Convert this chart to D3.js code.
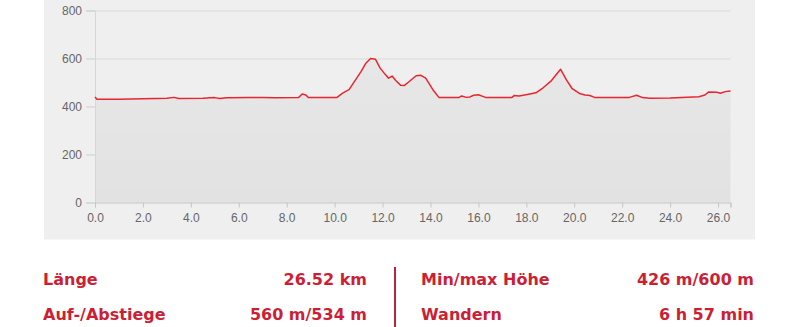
<!DOCTYPE html>
<html>
<head>
<meta charset="utf-8">
<script src="https://cdn.jsdelivr.net/npm/d3@7"></script>
<style>
  body { margin: 0; background: #fff; }
  svg { display: block; }
</style>
</head>
<body>
<div id="profile"></div>
<script>
// Set Dimensions
const width = 800;
const height = 327;

// Elevation profile (km, m)
const distKm = [0.00, 0.08, 1.00, 2.00, 3.00, 3.30, 3.50, 4.50, 5.00, 5.20, 5.50, 6.50, 7.00, 7.50, 8.50,
  8.65, 8.80, 8.90, 9.50, 10.10, 10.35, 10.60, 10.90, 11.10, 11.30, 11.50, 11.70, 11.90, 12.10, 12.25,
  12.40, 12.55, 12.75, 12.90, 13.10, 13.40, 13.60, 13.80, 14.10, 14.35, 15.20, 15.30, 15.50, 15.65,
  15.80, 16.00, 16.30, 17.40, 17.50, 17.70, 18.15, 18.40, 18.70, 19.05, 19.25, 19.43, 19.68, 19.90,
  20.25, 20.45, 20.65, 20.85, 22.30, 22.60, 22.85, 23.15, 24.00, 25.20, 25.45, 25.60, 25.95, 26.10,
  26.30, 26.52];
const elevM = [440, 430, 430, 432, 434, 438, 433, 434, 437, 433, 436, 437, 438, 436, 438,
  452, 448, 437, 438, 438, 457, 470, 515, 545, 580, 600, 597, 560, 535, 518,
  527, 508, 489, 487, 503, 528, 530, 518, 470, 438, 438, 444, 438, 440,
  447, 449, 438, 438, 446, 444, 452, 457, 478, 508, 533, 555, 510, 476,
  453, 448, 446, 438, 438, 447, 437, 434, 435, 441, 448, 460, 459, 455,
  462, 465];

const xTicks = [0, 2, 4, 6, 8, 10, 12, 14, 16, 18, 20, 22, 24, 26];
const yTicks = [0, 200, 400, 600, 800];

// Summary table
const statLabels = ["Länge", "Auf-/Abstiege", "Min/max Höhe", "Wandern"];
const statValues = ["26.52 km", "560 m/534 m", "426 m/600 m", "6 h 57 min"];

const data = distKm.map((d, i) => [d, elevM[i]]);

const svg = d3.select("#profile")
  .append("svg")
  .attr("width", width)
  .attr("height", height);

// chart panel
svg.append("rect")
  .attr("x", 44).attr("y", -10)
  .attr("width", 711).attr("height", 249.5)
  .attr("fill", "#efefef");

const x = d3.scaleLinear().domain([0, 26.52]).range([95, 730.5]);
const y = d3.scaleLinear().domain([0, 800]).range([202.5, 10.5]);

const defs = svg.append("defs");
const grad = defs.append("linearGradient")
  .attr("id", "fillGrad").attr("x1", 0).attr("y1", 0).attr("x2", 0).attr("y2", 1);
grad.append("stop").attr("offset", "0%").attr("stop-color", "#e7e7e7");
grad.append("stop").attr("offset", "100%").attr("stop-color", "#e2e2e2");

// grid lines
svg.append("g")
  .selectAll("line")
  .data(yTicks.filter(d => d > 0))
  .join("line")
  .attr("x1", x(0)).attr("x2", x(26.52))
  .attr("y1", d => y(d) + 0.5).attr("y2", d => y(d) + 0.5)
  .attr("stroke", "#d9d9d9")
  .attr("stroke-width", 1);

// area + line
svg.append("path")
  .datum(data)
  .attr("fill", "url(#fillGrad)")
  .attr("d", d3.area().x(d => x(d[0])).y0(y(0)).y1(d => y(d[1])));

// y axis
const yAxis = svg.append("g")
  .attr("transform", "translate(" + x(0) + ",0)")
  .call(d3.axisLeft(y).tickValues(yTicks).tickSize(9).tickPadding(4).tickFormat(d3.format("d")));
yAxis.select(".domain").attr("stroke", "#d6d6d6");
yAxis.selectAll(".tick line").attr("stroke", "#cfcfcf");
yAxis.selectAll("text")
  .attr("fill", "#666")
  .style("font", "12px 'Liberation Sans', Arial, sans-serif");

// x axis
const xAxis = svg.append("g")
  .attr("transform", "translate(0," + y(0) + ")")
  .call(d3.axisBottom(x).tickValues(xTicks.concat([26.52])).tickSize(5).tickPadding(6)
    .tickFormat(d => xTicks.includes(d) ? d3.format(".1f")(d) : ""));
xAxis.select(".domain").attr("stroke", "#c6c6c6");
xAxis.selectAll(".tick line").attr("stroke", "#c6c6c6");
xAxis.selectAll("text")
  .attr("fill", "#666")
  .style("font", "12px 'Liberation Sans', Arial, sans-serif");

svg.append("path")
  .datum(data)
  .attr("fill", "none")
  .attr("stroke", "#e8262f")
  .attr("stroke-width", 1.5)
  .attr("stroke-linejoin", "round")
  .attr("d", d3.line().x(d => x(d[0])).y(d => y(d[1])));

// summary table
const rowY = [285, 320];
const colLabelX = [43, 421];
const colValueX = [367, 754];
const stats = svg.append("g")
  .style("font", "bold 16px 'DejaVu Sans', Verdana, sans-serif")
  .attr("fill", "#cc1f35");

statLabels.forEach((lbl, i) => {
  const col = Math.floor(i / 2);
  const row = i % 2;
  stats.append("text").attr("x", colLabelX[col]).attr("y", rowY[row]).text(lbl);
  stats.append("text").attr("x", colValueX[col]).attr("y", rowY[row])
    .attr("text-anchor", "end").text(statValues[i]);
});

svg.append("line")
  .attr("x1", 395).attr("x2", 395)
  .attr("y1", 267).attr("y2", 327)
  .attr("stroke", "#b8243a")
  .attr("stroke-width", 2);
</script>
</body>
</html>
